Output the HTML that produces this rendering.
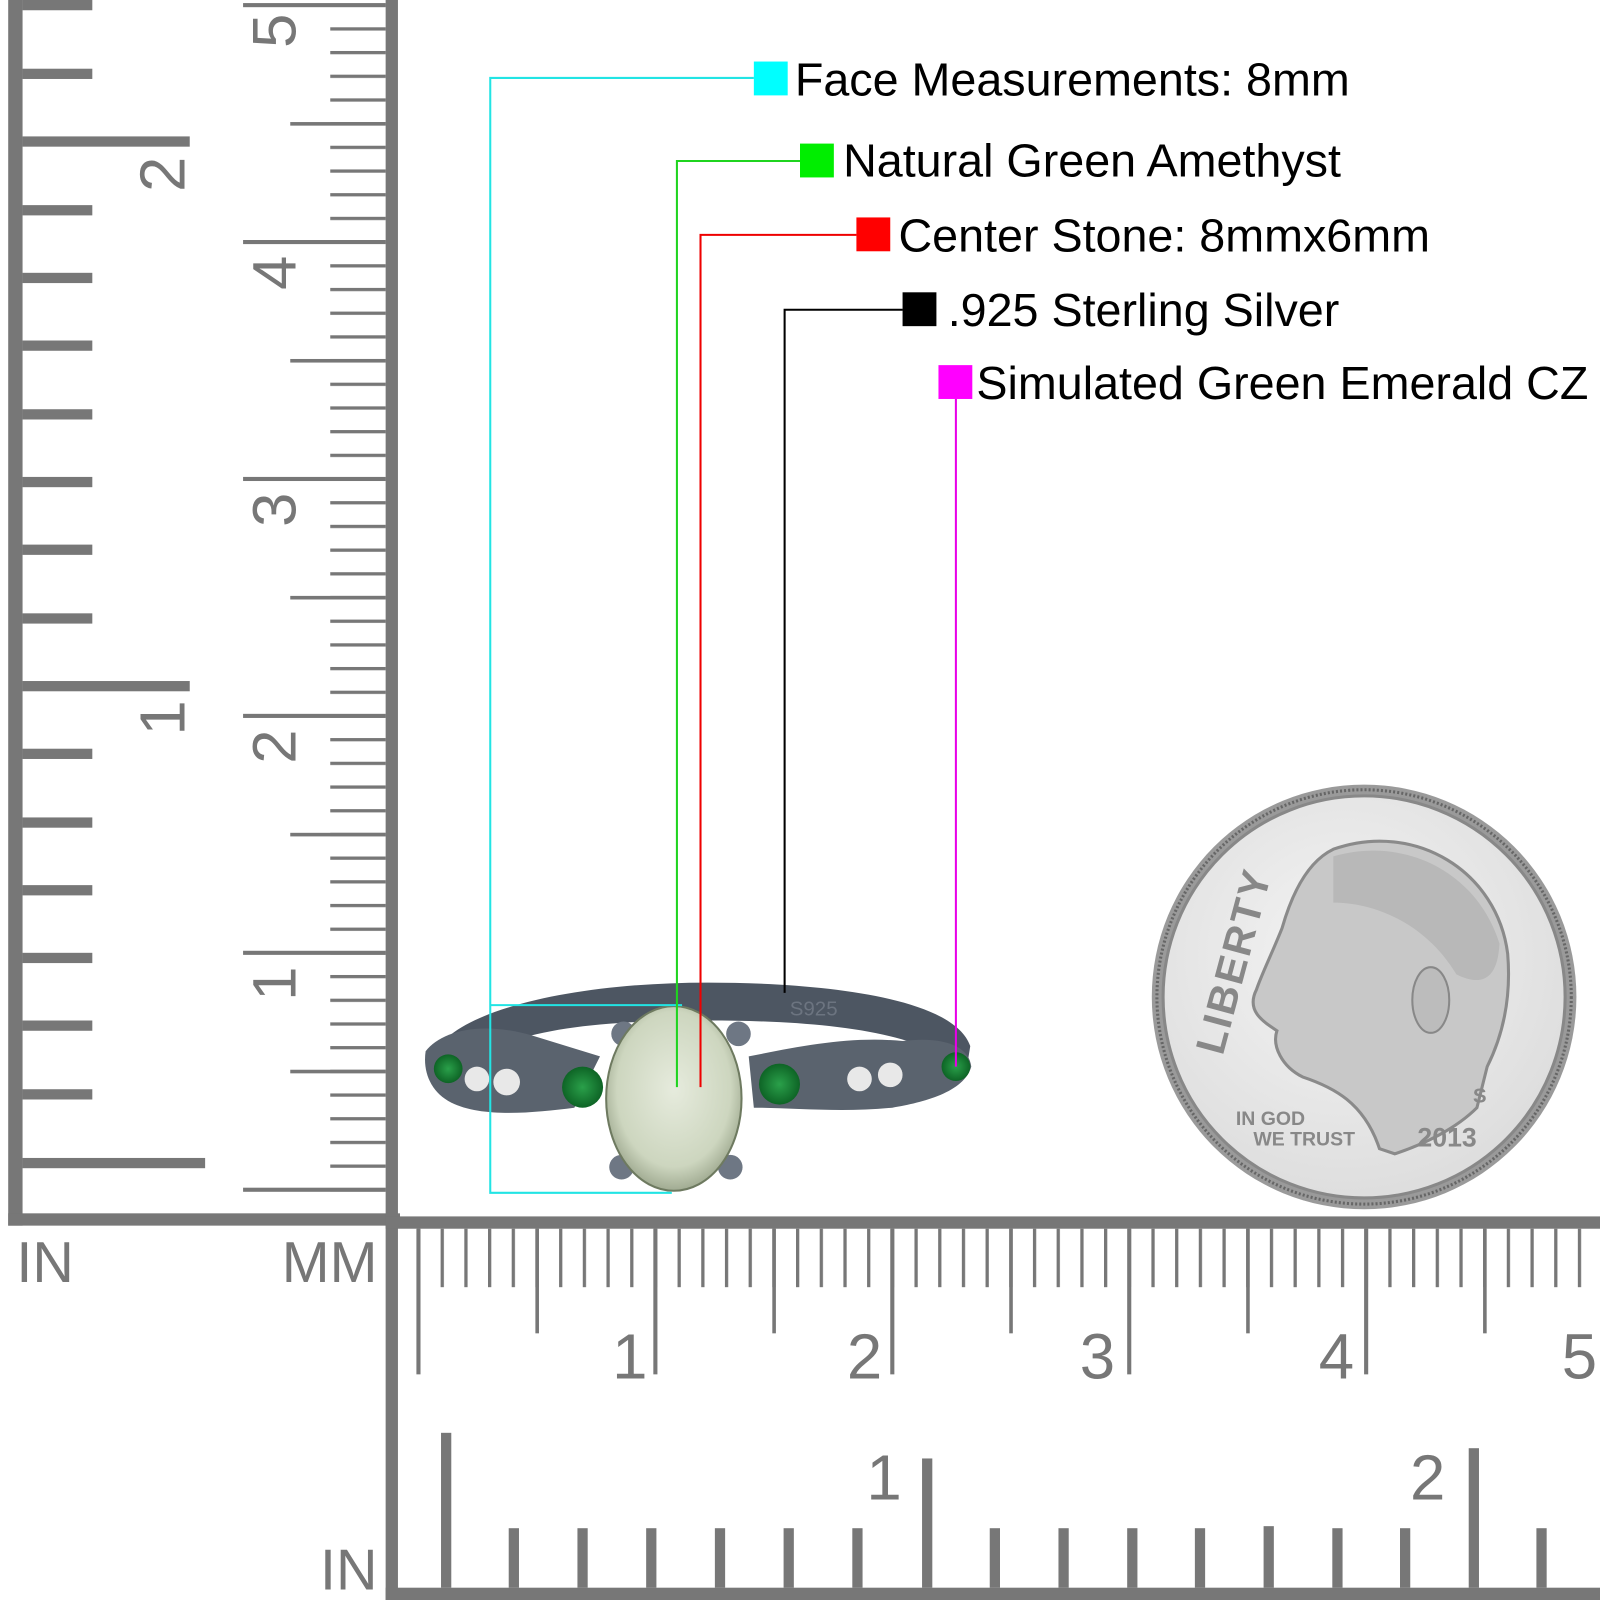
<!DOCTYPE html>
<html><head><meta charset="utf-8"><style>
html,body{margin:0;padding:0;background:#fff;width:1600px;height:1600px;overflow:hidden}
svg{display:block}
text{font-family:"Liberation Sans",sans-serif}
</style></head><body>
<svg width="1600" height="1600" viewBox="0 0 1560 1560" xmlns="http://www.w3.org/2000/svg">
<defs>
<pattern id="mmv" patternUnits="userSpaceOnUse" x="0" y="3.5" width="100" height="23.1"><rect x="0" y="0" width="100" height="3.2" fill="#777"/></pattern>
<pattern id="mmh" patternUnits="userSpaceOnUse" x="406.5" y="0" width="23.1" height="100"><rect x="0" y="0" width="3.2" height="100" fill="#777"/></pattern>
<radialGradient id="coin" cx="45%" cy="40%" r="65%"><stop offset="0" stop-color="#f4f4f4"/><stop offset="1" stop-color="#dcdcdc"/></radialGradient>
<radialGradient id="stone" cx="50%" cy="45%" r="60%"><stop offset="0" stop-color="#e6ebdd"/><stop offset="0.7" stop-color="#cdd6bf"/><stop offset="1" stop-color="#8f9a80"/></radialGradient>
<radialGradient id="em" cx="50%" cy="50%" r="55%"><stop offset="0" stop-color="#2aa04a"/><stop offset="1" stop-color="#0b5e22"/></radialGradient>
</defs>

<!-- LEFT RULER -->
<rect x="8" y="0" width="14" height="1195" fill="#777"/>
<rect x="8" y="1183" width="382" height="12" fill="#777"/>
<rect x="376" y="0" width="12" height="1560" fill="#777"/>
<g fill="#777">
<rect x="22" y="0" width="68" height="10"/>
<rect x="22" y="67" width="68" height="10"/>
<rect x="22" y="133" width="163" height="10"/>
<rect x="22" y="200" width="68" height="10"/>
<rect x="22" y="266" width="68" height="10"/>
<rect x="22" y="332" width="68" height="10"/>
<rect x="22" y="399" width="68" height="10"/>
<rect x="22" y="465" width="68" height="10"/>
<rect x="22" y="531" width="68" height="10"/>
<rect x="22" y="598" width="68" height="10"/>
<rect x="22" y="664" width="163" height="10"/>
<rect x="22" y="730" width="68" height="10"/>
<rect x="22" y="797" width="68" height="10"/>
<rect x="22" y="863" width="68" height="10"/>
<rect x="22" y="929" width="68" height="10"/>
<rect x="22" y="995" width="68" height="10"/>
<rect x="22" y="1062" width="68" height="10"/>
<rect x="22" y="1129" width="178" height="10"/>
</g>
<text transform="translate(180,170) rotate(-90)" font-size="62" fill="#777" text-anchor="middle">2</text>
<text transform="translate(180,700) rotate(-90)" font-size="62" fill="#777" text-anchor="middle">1</text>
<rect x="322" y="0" width="54" height="1180" fill="url(#mmv)"/>
<g fill="#777">
<rect x="283" y="119" width="93" height="3.5"/>
<rect x="283" y="350" width="93" height="3.5"/>
<rect x="283" y="581" width="93" height="3.5"/>
<rect x="283" y="812" width="93" height="3.5"/>
<rect x="283" y="1043" width="93" height="3.5"/>
<rect x="237" y="3" width="139" height="4"/>
<rect x="237" y="234" width="139" height="4"/>
<rect x="237" y="465" width="139" height="4"/>
<rect x="237" y="696" width="139" height="4"/>
<rect x="237" y="927" width="139" height="4"/>
<rect x="237" y="1158" width="139" height="4"/>
</g>
<g font-size="60" fill="#777" text-anchor="middle">
<text transform="translate(288,30) rotate(-90)">5</text>
<text transform="translate(288,266) rotate(-90)">4</text>
<text transform="translate(288,497) rotate(-90)">3</text>
<text transform="translate(288,728) rotate(-90)">2</text>
<text transform="translate(288,959) rotate(-90)">1</text>
</g>
<text x="16" y="1250" font-size="56" fill="#777">IN</text>
<text x="368" y="1250" font-size="56" fill="#777" text-anchor="end">MM</text>
<text x="368" y="1550" font-size="56" fill="#777" text-anchor="end">IN</text>

<!-- BOTTOM RULER -->
<rect x="376" y="1186" width="1184" height="12" fill="#777"/>
<rect x="376" y="1548" width="1184" height="12" fill="#777"/>
<rect x="400" y="1198" width="1160" height="57" fill="url(#mmh)"/>
<g fill="#777">
<rect x="522" y="1198" width="3.5" height="102"/>
<rect x="753" y="1198" width="3.5" height="102"/>
<rect x="984" y="1198" width="3.5" height="102"/>
<rect x="1215" y="1198" width="3.5" height="102"/>
<rect x="1446" y="1198" width="3.5" height="102"/>
<rect x="406" y="1198" width="4" height="142"/>
<rect x="637" y="1198" width="4" height="142"/>
<rect x="868" y="1198" width="4" height="142"/>
<rect x="1099" y="1198" width="4" height="142"/>
<rect x="1330" y="1198" width="4" height="142"/>
</g>
<g font-size="62" fill="#777" text-anchor="middle">
<text x="614" y="1344">1</text>
<text x="843" y="1344">2</text>
<text x="1070" y="1344">3</text>
<text x="1303" y="1344">4</text>
<text x="1540" y="1344">5</text>
</g>
<g fill="#777">
<rect x="430" y="1397" width="10" height="151"/>
<rect x="496" y="1490" width="10" height="58"/>
<rect x="563" y="1490" width="10" height="58"/>
<rect x="630" y="1490" width="10" height="58"/>
<rect x="697" y="1490" width="10" height="58"/>
<rect x="764" y="1490" width="10" height="58"/>
<rect x="831" y="1490" width="10" height="58"/>
<rect x="899" y="1422" width="10" height="126"/>
<rect x="965" y="1490" width="10" height="58"/>
<rect x="1032" y="1490" width="10" height="58"/>
<rect x="1099" y="1490" width="10" height="58"/>
<rect x="1165" y="1490" width="10" height="58"/>
<rect x="1232" y="1488" width="10" height="60"/>
<rect x="1299" y="1490" width="10" height="58"/>
<rect x="1432" y="1412" width="10" height="136"/>
<rect x="1365" y="1490" width="10" height="58"/>
<rect x="1498" y="1490" width="10" height="58"/>
</g>
<text x="862" y="1462" font-size="62" fill="#777" text-anchor="middle">1</text>
<text x="1392" y="1462" font-size="62" fill="#777" text-anchor="middle">2</text>

<!-- COIN -->
<circle cx="1330" cy="972" r="207" fill="#9a9a9a"/>
<circle cx="1330" cy="972" r="202" fill="none" stroke="#666" stroke-width="3" stroke-dasharray="2 2"/>
<circle cx="1330" cy="972" r="196" fill="url(#coin)" stroke="#888" stroke-width="3"/>
<path d="M1300,828 C1380,800 1460,850 1470,930 C1475,990 1455,1030 1450,1040 L1440,1080 C1420,1100 1390,1115 1360,1125 L1345,1120 C1330,1075 1300,1060 1270,1050 C1250,1040 1240,1020 1245,1005 C1230,995 1215,985 1225,965 C1230,950 1240,930 1250,905 C1260,870 1275,840 1300,828 Z" fill="#c8c8c8" stroke="#8a8a8a" stroke-width="3"/>
<path d="M1300,835 C1370,815 1440,850 1462,920 C1460,960 1440,960 1420,950 C1390,900 1340,880 1300,880 Z" fill="#b8b8b8"/>
<ellipse cx="1395" cy="975" rx="18" ry="32" fill="#bcbcbc" stroke="#888" stroke-width="2"/>
<text transform="translate(1192,1030) rotate(-75)" font-size="40" font-weight="bold" fill="#888" letter-spacing="2">LIBERTY</text>
<text x="1205" y="1097" font-size="19" font-weight="bold" fill="#888">IN GOD</text>
<text x="1222" y="1117" font-size="19" font-weight="bold" fill="#888">WE TRUST</text>
<text x="1382" y="1118" font-size="26" font-weight="bold" fill="#888">2013</text>
<text x="1436" y="1075" font-size="20" font-weight="bold" fill="#888">S</text>

<!-- RING -->
<path d="M422,1030 C440,985 560,958 690,958 C800,958 930,972 946,1020 L942,1045 C900,1005 800,995 690,995 C570,995 470,1005 430,1060 Z" fill="#4d5662"/>
<path d="M415,1025 C430,1005 470,995 520,1010 L585,1030 L560,1080 C520,1085 470,1090 440,1075 C420,1065 412,1045 415,1025 Z" fill="#5a636e"/>
<path d="M730,1030 C780,1020 830,1010 880,1015 C920,1010 945,1020 947,1040 C940,1065 900,1075 870,1080 C820,1085 770,1080 735,1080 Z" fill="#5a636e"/>
<text x="770" y="990" font-size="20" fill="#6c7480" font-family="Liberation Serif,serif">S925</text>
<circle cx="437" cy="1042" r="14" fill="url(#em)"/>
<circle cx="932" cy="1040" r="14" fill="url(#em)"/>
<circle cx="568" cy="1060" r="20" fill="url(#em)"/>
<circle cx="760" cy="1057" r="20" fill="url(#em)"/>
<circle cx="465" cy="1052" r="12" fill="#e8e8e8"/>
<circle cx="494" cy="1055" r="13" fill="#e8e8e8"/>
<circle cx="838" cy="1052" r="12" fill="#e8e8e8"/>
<circle cx="868" cy="1048" r="12" fill="#e8e8e8"/>
<circle cx="608" cy="1008" r="12" fill="#6e7784"/>
<circle cx="720" cy="1008" r="12" fill="#6e7784"/>
<circle cx="606" cy="1138" r="12" fill="#6e7784"/>
<circle cx="712" cy="1138" r="12" fill="#6e7784"/>
<ellipse cx="657" cy="1071" rx="66" ry="90" fill="url(#stone)" stroke="#6e7a60" stroke-width="2"/>

<!-- CALLOUTS -->
<g fill="none" stroke-width="2">
<polyline points="735,76 478,76 478,1163 655,1163" stroke="#22e4e4"/>
<line x1="478" y1="980" x2="665" y2="980" stroke="#22e4e4"/>
<polyline points="780,157 660,157 660,1060" stroke="#1fd41f"/>
<polyline points="835,229 683,229 683,1060" stroke="#ee0000"/>
<polyline points="880,302 765,302 765,968" stroke="#000"/>
<line x1="932" y1="389" x2="932" y2="1040" stroke="#e800e8"/>
</g>
<rect x="735" y="60" width="33" height="33" fill="#00ffff"/>
<rect x="780" y="140" width="33" height="33" fill="#00ee00"/>
<rect x="835" y="212" width="33" height="33" fill="#ff0000"/>
<rect x="880" y="285" width="33" height="33" fill="#000"/>
<rect x="915" y="356" width="33" height="33" fill="#ff00ff"/>
<g font-size="45.5" fill="#000">
<text x="775" y="93">Face Measurements: 8mm</text>
<text x="822" y="172">Natural Green Amethyst</text>
<text x="876" y="245">Center Stone: 8mmx6mm</text>
<text x="924" y="318">.925 Sterling Silver</text>
<text x="952" y="389">Simulated Green Emerald CZ</text>
</g>
</svg>
</body></html>
